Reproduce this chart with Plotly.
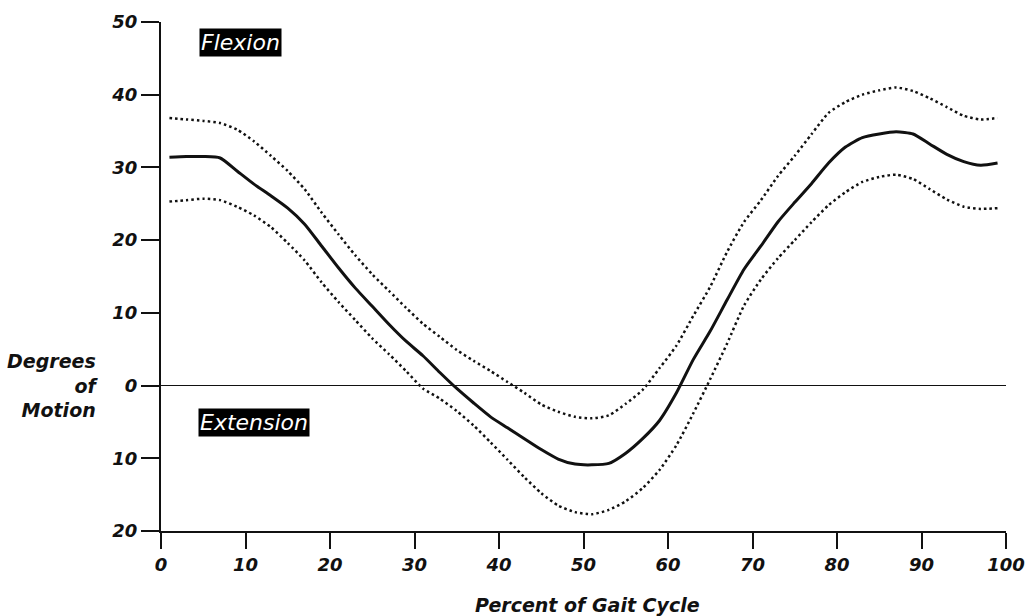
import plotly.graph_objects as go

# Percent of gait cycle
x = [1, 3, 5, 7, 9, 11, 13, 15, 17, 19, 21, 23, 25, 27, 29, 31, 33, 35, 37, 39,
     41, 43, 45, 47, 49, 51, 53, 55, 57, 59, 61, 63, 65, 67, 69, 71, 73, 75, 77, 79,
     81, 83, 85, 87, 89, 91, 93, 95, 97, 99]

mean = [31.4, 31.5, 31.5, 31.3, 29.5, 27.7, 26.1, 24.4, 22.2, 19.2, 16.2, 13.4, 10.9, 8.4, 6.1,
        4.1, 1.8, -0.4, -2.4, -4.3, -5.8, -7.3, -8.8, -10.1, -10.8, -10.9, -10.7, -9.3, -7.3, -4.8,
        -1.0, 3.6, 7.5, 11.8, 16.0, 19.2, 22.5, 25.2, 27.8, 30.6, 32.8, 34.1, 34.6, 34.9, 34.6,
        33.2, 31.8, 30.8, 30.3, 30.6]

upper = [36.8, 36.6, 36.4, 36.1, 35.2, 33.6, 31.6, 29.5, 27.0, 23.8, 20.8, 17.9, 15.3, 13.0, 10.7,
         8.5, 6.7, 4.9, 3.4, 2.0, 0.5, -1.0, -2.6, -3.6, -4.3, -4.5, -4.1, -2.5, -0.6, 2.4,
         5.5, 9.6, 13.6, 18.4, 22.5, 25.5, 28.8, 31.6, 34.6, 37.5, 39.0, 40.0, 40.6, 41.0, 40.5,
         39.5, 38.3, 37.1, 36.6, 36.8]

lower = [25.3, 25.5, 25.7, 25.5, 24.6, 23.4, 21.8, 19.6, 17.2, 14.2, 11.5, 9.0, 6.5, 4.3, 2.0,
         -0.4, -1.8, -3.5, -5.5, -7.8, -10.2, -12.6, -14.8, -16.5, -17.4, -17.7, -17.1, -15.9, -14.1, -11.6,
         -8.2, -3.8, 0.9, 5.8, 11.0, 14.6, 17.5, 20.0, 22.5, 24.8, 26.6, 28.0, 28.7, 29.0, 28.4,
         27.0, 25.6, 24.6, 24.3, 24.4]

x_ticks = [0, 10, 20, 30, 40, 50, 60, 70, 80, 90, 100]
y_ticks = [-20, -10, 0, 10, 20, 30, 40, 50]
y_tick_text = ["20", "10", "0", "10", "20", "30", "40", "50"]

FONT = "DejaVu Sans"
INK = "#111111"

fig = go.Figure()
for series, dash, w in [(upper, "2.5px,3px", 2.5), (lower, "2.5px,3px", 2.5), (mean, "solid", 3)]:
    fig.add_trace(go.Scatter(x=x, y=series, mode="lines",
                             line=dict(color=INK, width=w, dash=dash, shape="spline", smoothing=0.6),
                             showlegend=False, hoverinfo="skip"))

tickfont = dict(family=FONT, size=18, color=INK, weight="bold", style="italic")

fig.update_layout(
    width=1029, height=616,
    margin=dict(l=161, r=23, t=22, b=85, autoexpand=False),
    paper_bgcolor="white", plot_bgcolor="white",
    xaxis=dict(range=[0, 100], tickvals=x_ticks, showgrid=False, zeroline=False,
               showline=True, linecolor=INK, linewidth=2, automargin=False,
               ticks="outside", ticklen=16, tickwidth=2, tickcolor=INK,
               tickfont=tickfont),
    yaxis=dict(range=[-20, 50], tickvals=y_ticks, ticktext=y_tick_text, showgrid=False,
               zeroline=True, zerolinecolor=INK, zerolinewidth=1.5,
               showline=True, linecolor=INK, linewidth=2, automargin=False,
               ticks="outside", ticklen=18, tickwidth=2, tickcolor=INK,
               tickfont=tickfont),
    annotations=[
        dict(text="Flexion", xref="paper", yref="paper", x=0.0935, y=0.9607,
             xanchor="center", yanchor="middle", showarrow=False, bgcolor="black",
             borderpad=1, font=dict(family=FONT, size=22, color="white", style="italic")),
        dict(text="Extension", xref="paper", yref="paper", x=0.110, y=0.2122,
             xanchor="center", yanchor="middle", showarrow=False, bgcolor="black",
             borderpad=1, font=dict(family=FONT, size=22, color="white", style="italic")),
        dict(text="Degrees<br>of<br>Motion", xref="paper", yref="paper", x=-0.0722, y=0.2868,
             xanchor="right", yanchor="middle", align="right", showarrow=False,
             font=dict(family=FONT, size=19, color=INK, weight="bold", style="italic")),
        dict(text="Percent of Gait Cycle", xref="paper", yref="paper", x=0.505, y=-0.145,
             xanchor="center", yanchor="middle", showarrow=False,
             font=dict(family=FONT, size=19, color=INK, weight="bold", style="italic")),
    ],
)

fig.write_html("out.html", config={"displayModeBar": False, "staticPlot": True})

# remove the browser's default page margin so the figure sits at the window's corner
with open("out.html", encoding="utf-8") as f:
    html = f.read()
html = html.replace("<head>", "<head><style>html,body{margin:0;padding:0;overflow:hidden;}</style>", 1)
with open("out.html", "w", encoding="utf-8") as f:
    f.write(html)
